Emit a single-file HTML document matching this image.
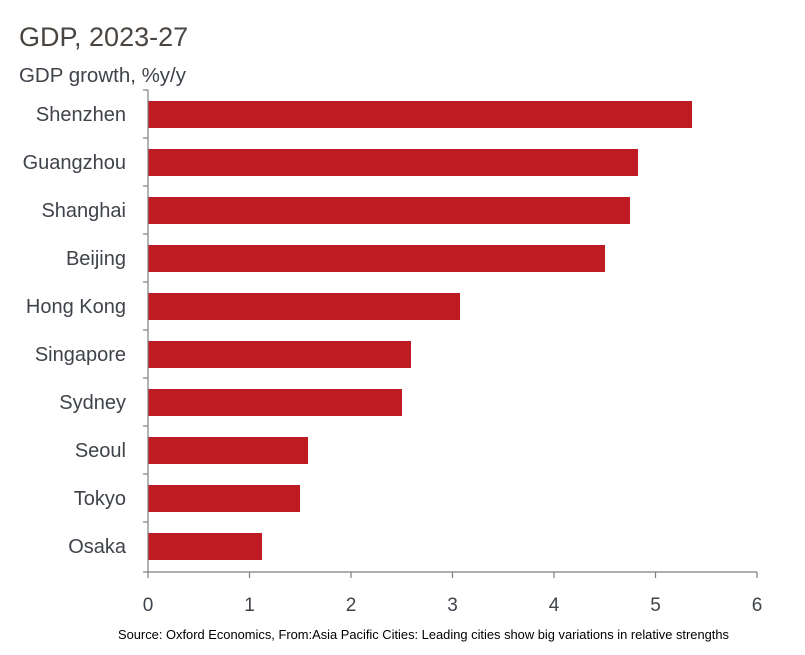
<!DOCTYPE html>
<html><head><meta charset="utf-8"><style>
html,body{margin:0;padding:0;background:#fff;}
svg{display:block;}
</style></head><body>
<svg width="805" height="655" xmlns="http://www.w3.org/2000/svg" font-family="Liberation Sans, DejaVu Sans, sans-serif">
<text x="19" y="46" font-size="27" fill="#4a4540">GDP, 2023-27</text>
<text x="19" y="82" font-size="20" fill="#3f434a" textLength="167" lengthAdjust="spacingAndGlyphs">GDP growth, %y/y</text>
<g fill="#be1b22">
<rect x="148" y="101" width="544" height="27"/>
<rect x="148" y="149" width="490" height="27"/>
<rect x="148" y="197" width="482" height="27"/>
<rect x="148" y="245" width="457" height="27"/>
<rect x="148" y="293" width="312" height="27"/>
<rect x="148" y="341" width="263" height="27"/>
<rect x="148" y="389" width="254" height="27"/>
<rect x="148" y="437" width="160" height="27"/>
<rect x="148" y="485" width="152" height="27"/>
<rect x="148" y="533" width="114" height="27"/>
</g>
<g stroke="#7f7f7f" stroke-width="1.2" fill="none">
<line x1="148" y1="90" x2="148" y2="572"/>
<line x1="148" y1="572" x2="757" y2="572"/>
<line x1="143" y1="90" x2="148" y2="90"/>
<line x1="143" y1="138" x2="148" y2="138"/>
<line x1="143" y1="186" x2="148" y2="186"/>
<line x1="143" y1="234" x2="148" y2="234"/>
<line x1="143" y1="282" x2="148" y2="282"/>
<line x1="143" y1="330" x2="148" y2="330"/>
<line x1="143" y1="378" x2="148" y2="378"/>
<line x1="143" y1="426" x2="148" y2="426"/>
<line x1="143" y1="474" x2="148" y2="474"/>
<line x1="143" y1="522" x2="148" y2="522"/>
<line x1="143" y1="572" x2="148" y2="572"/>
<line x1="148" y1="572" x2="148" y2="578"/>
<line x1="249.5" y1="572" x2="249.5" y2="578"/>
<line x1="351" y1="572" x2="351" y2="578"/>
<line x1="452.5" y1="572" x2="452.5" y2="578"/>
<line x1="554" y1="572" x2="554" y2="578"/>
<line x1="655.5" y1="572" x2="655.5" y2="578"/>
<line x1="757" y1="572" x2="757" y2="578"/>
</g>
<g font-size="20" fill="#3f434a" text-anchor="end">
<text x="126" y="121">Shenzhen</text>
<text x="126" y="169">Guangzhou</text>
<text x="126" y="217">Shanghai</text>
<text x="126" y="265">Beijing</text>
<text x="126" y="313">Hong Kong</text>
<text x="126" y="361">Singapore</text>
<text x="126" y="409">Sydney</text>
<text x="126" y="457">Seoul</text>
<text x="126" y="505">Tokyo</text>
<text x="126" y="553">Osaka</text>
</g>
<g font-size="19" fill="#3f434a" text-anchor="middle">
<text x="148" y="611">0</text>
<text x="249.5" y="611">1</text>
<text x="351" y="611">2</text>
<text x="452.5" y="611">3</text>
<text x="554" y="611">4</text>
<text x="655.5" y="611">5</text>
<text x="757" y="611">6</text>
</g>
<text x="118" y="639" font-size="12.5" fill="#000" textLength="611" lengthAdjust="spacingAndGlyphs">Source:  Oxford Economics, From:Asia Pacific Cities: Leading cities show big variations in relative strengths</text>
</svg>
</body></html>
